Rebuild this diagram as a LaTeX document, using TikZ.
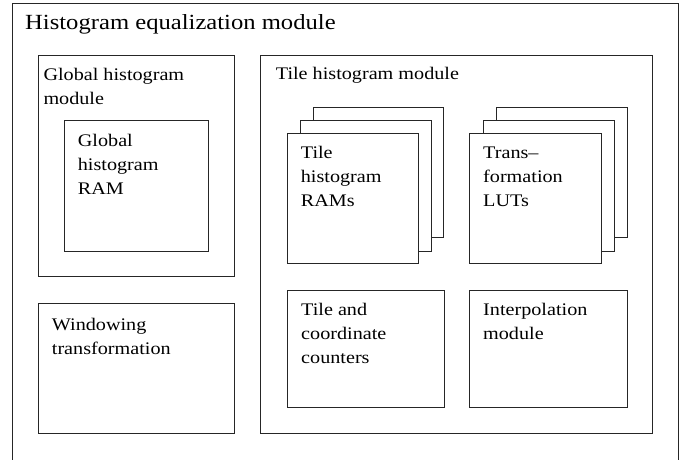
\documentclass[tikz,border=0pt]{standalone}
\usepackage{fontspec}
\setmainfont{Liberation Serif}
% text is set slightly wide, left aligned, one row per line
\newcommand{\widetext}[1]{\scalebox{1.14}[1]{\begin{tabular}[t]{@{}l@{}}#1\end{tabular}}}
\begin{document}
\begin{tikzpicture}[x=1pt,y=-1pt,
  box/.style={draw=black!85, line width=0.9pt, fill=white, inner sep=0pt,
              anchor=north west},
  lbl/.style={anchor=base west, inner sep=0pt,
              font=\fontsize{17.7}{24}\selectfont},
  headlbl/.style={anchor=base west, inner sep=0pt,
              font=\fontsize{21.6}{26}\selectfont}]
\useasboundingbox (0,0) rectangle (687,459);
\clip (0,0) rectangle (687,459);

% outer module
\node[box, minimum width=666pt, minimum height=470pt] (hem) at (12,3) {};
\node[headlbl] (hemlbl) at (25,29.3) {\widetext{Histogram equalization module}};

% global histogram module
\node[box, minimum width=196pt, minimum height=221pt] (ghm) at (38,55) {};
\node[lbl] (ghmlbl) at (43.3,80.5) {\widetext{Global histogram\\module}};
\node[box, minimum width=144pt, minimum height=131pt] (ram) at (64,120) {};
\node[lbl] (ramlbl) at (77.7,146.7) {\widetext{Global\\histogram\\RAM}};

% windowing transformation
\node[box, minimum width=196pt, minimum height=130pt] (win) at (38,303) {};
\node[lbl] (winlbl) at (51.7,330) {\widetext{Windowing\\transformation}};

% tile histogram module
\node[box, minimum width=392pt, minimum height=378pt] (thm) at (260,55) {};
\node[lbl] (thmlbl) at (275.7,79) {\widetext{Tile histogram module}};

% stack of tile histogram RAMs
\node[box, minimum width=130pt, minimum height=130pt] (ramc) at (313,107) {};
\node[box, minimum width=131pt, minimum height=131pt] (ramb) at (300,120) {};
\node[box, minimum width=131pt, minimum height=130pt] (rama) at (287,133) {};
\node[lbl] (ramalbl) at (300.7,158) {\widetext{Tile\\histogram\\RAMs}};

% stack of transformation LUTs
\node[box, minimum width=131pt, minimum height=130pt] (lutc) at (496,107) {};
\node[box, minimum width=131pt, minimum height=131pt] (lutb) at (483,120) {};
\node[box, minimum width=132pt, minimum height=130pt] (luta) at (469,133) {};
\node[lbl] (lutalbl) at (483,158) {\widetext{Trans--\\formation\\LUTs}};

% counters and interpolation
\node[box, minimum width=157pt, minimum height=117pt] (cnt) at (287,290) {};
\node[lbl] (cntlbl) at (301,315) {\widetext{Tile and\\coordinate\\counters}};
\node[box, minimum width=158pt, minimum height=117pt] (itp) at (469,290) {};
\node[lbl] (itplbl) at (483,315) {\widetext{Interpolation\\module}};
\end{tikzpicture}
\end{document}
